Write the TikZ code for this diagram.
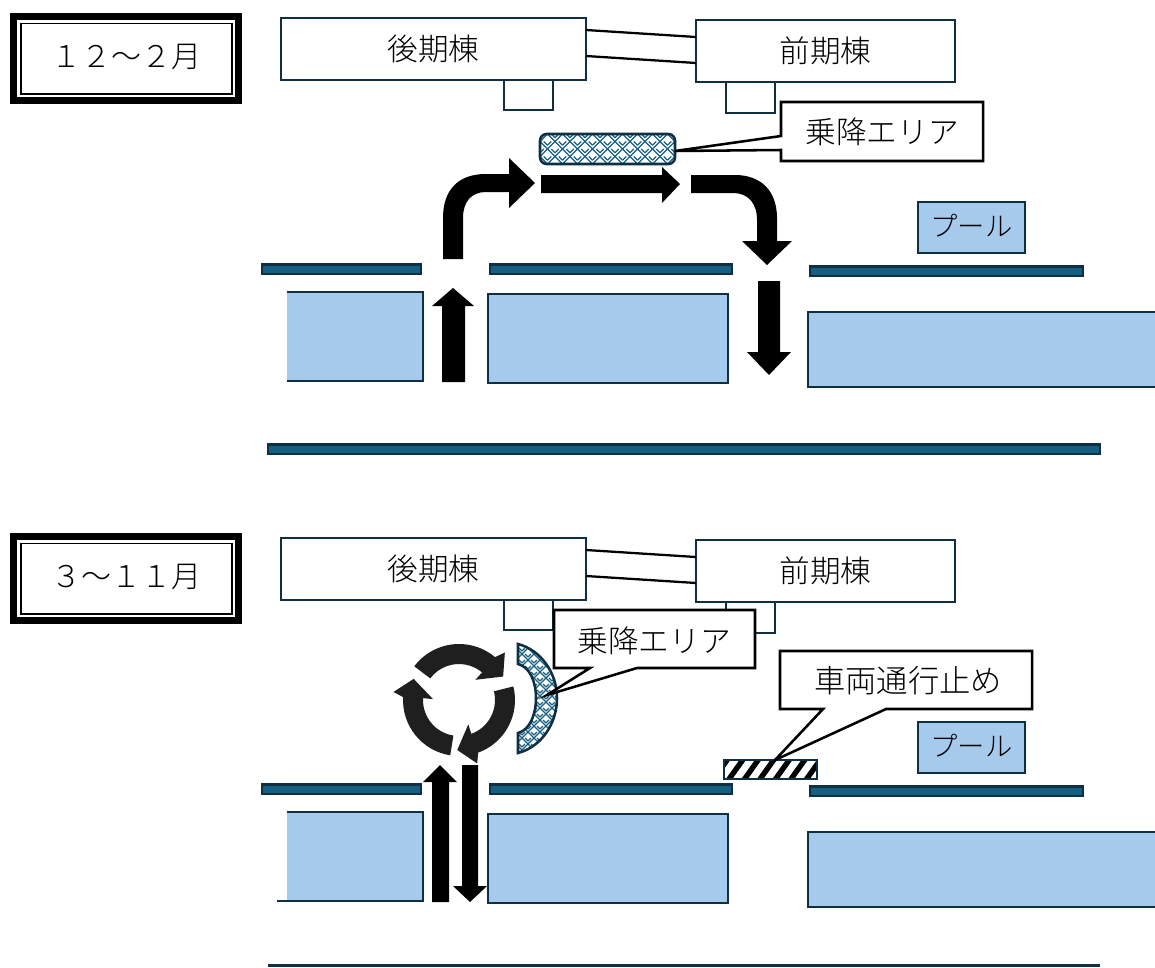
\documentclass[tikz,border=0pt]{standalone}
\usepackage{fontspec}
\newfontfamily\cjk[UprightFont=* Light]{Noto Sans CJK JP}
\usetikzlibrary{calc}
\definecolor{wallfill}{HTML}{156082}
\definecolor{navy}{HTML}{0F2F43}
\definecolor{bldfill}{HTML}{A6CAEC}
\tikzset{
  x=0.75pt,y=-0.75pt,
  bldg/.style={draw=navy,line width=1.9pt,fill=white,inner sep=0pt,font=\cjk\fontsize{23}{25}\selectfont},
  annex/.style={draw=navy,line width=1.9pt,fill=white},
  wallbar/.style={draw=navy,line width=1.9pt,fill=wallfill},
  blockfill/.style={fill=bldfill},
  blockline/.style={draw=navy,line width=1.9pt},
  calloutshape/.style={draw=black,line width=1.9pt,fill=white,line join=miter},
  calloutlabel/.style={inner sep=0pt,font=\cjk\fontsize{23}{25}\selectfont},
  titletext/.style={inner sep=0pt,font=\cjk\fontsize{22.5}{25}\selectfont},
  link/.style={draw=black,line width=1.7pt},
  fatarrow/.style={fill=black},
  weave/.style={draw=wallfill,line width=0.95pt},
  recycle/.style={fill=black!88},
}
% woven fill: a checkerboard of tiles, each with short diagonal strokes
\newcommand{\weavefill}[5]{% x0, y0, nx, ny, tile
  \foreach \i in {1,...,#3}{
    \foreach \j in {1,...,#4}{
      \pgfmathtruncatemacro{\wv}{mod(\i+\j,2)}
      \pgfmathsetmacro{\wx}{#1+(\i-1)*#5}
      \pgfmathsetmacro{\wy}{#2+(\j-1)*#5}
      \ifnum\wv=0
        \draw[weave] (\wx,\wy+#5/2) -- (\wx+#5/2,\wy);
        \draw[weave] (\wx,\wy+#5) -- (\wx+#5,\wy);
      \else
        \draw[weave] (\wx,\wy) -- (\wx+#5,\wy+#5);
        \draw[weave] (\wx+#5/2,\wy) -- (\wx+#5,\wy+#5/2);
      \fi
    }
  }
}
\newcommand{\campus}[1]{%
  % title frame
  \fill[black] (10,12.5) rectangle (242,104);
  \fill[white] (17,19.5) rectangle (235,97);
  \draw[black,line width=1.4pt] (21,23.5) rectangle (232,94);
  \node[titletext] (title) at (126.5,57) {#1};
  % buildings and corridors
  \draw[annex] (504,80) rectangle (553,110);
  \draw[annex] (726,82) rectangle (775,113);
  \node[bldg,minimum width=228.75pt,minimum height=46.5pt] (late) at (433.5,49) {\raisebox{1pt}{後期棟}};
  \node[bldg,minimum width=194.25pt,minimum height=46.5pt] (early) at (825.5,51) {\raisebox{1pt}{前期棟}};
  \coordinate (la) at (586,30); \coordinate (lb) at (586,56);
  \coordinate (ea) at (696,37); \coordinate (eb) at (696,63);
  \draw[link] (la) -- (ea);
  \draw[link] (lb) -- (eb);
  % pool
  \node[bldg,fill=bldfill,minimum width=80.25pt,minimum height=38.25pt,font=\cjk\fontsize{20.5}{22}\selectfont] (pool) at (971.5,227.5) {\raisebox{3pt}{プール}};
  % walls
  \draw[wallbar] (262,264.5) rectangle (421,274);
  \draw[wallbar] (490,264.5) rectangle (732,274);
  \draw[wallbar] (810,266.5) rectangle (1083,276);
  % blocks
  \fill[blockfill] (287,292) rectangle (423,381);
  \draw[blockline] (287,292) -- (423,292) -- (423,381) -- (287,381);
  \fill[blockfill,draw=navy,line width=1.9pt] (488,294) rectangle (728,383);
  \fill[blockfill] (808,312) rectangle (1155,387);
  \draw[blockline] (1155,312) -- (808,312) -- (808,387) -- (1155,387);
}
\begin{document}
\begin{tikzpicture}
\useasboundingbox (0,0) rectangle (1155,967);
\fill[white] (0,0) rectangle (1155,967);

%% ---- upper panel
\begin{scope}[name prefix=a-]
  \campus{１２～２月}
  \draw[wallbar] (268,444.5) rectangle (1100,454);
  % boarding area
  \begin{scope}
    \clip[rounded corners=5pt] (540,134) rectangle (675,164);
    \weavefill{540}{134}{19}{5}{7.5}
  \end{scope}
  \draw[draw=navy,line width=1.9pt,rounded corners=5pt] (540,134) rectangle (675,164);
  \coordinate (a-tipA) at (675,151);
  \draw[calloutshape] (781,102) -- (983,102) -- (983,161) -- (781,161) -- (781,150) -- (a-tipA) -- (781,136) -- cycle;
  \node[calloutlabel] (board) at (882,132) {乗降エリア};
  % traffic arrows
  \fill[fatarrow] (443,259) -- (443,218) .. controls (443,190) and (458,174) .. (486,174) -- (509,174)
     -- (509,158) -- (535,183) -- (509,208) -- (509,192) -- (486,192)
     .. controls (471,192) and (463,202) .. (463,218) -- (463,259) -- cycle;
  \fill[fatarrow] (541,175) -- (662,175) -- (662,167) -- (680,184) -- (662,203) -- (662,193) -- (541,193) -- cycle;
  \fill[fatarrow] (691,175) -- (735,175) .. controls (762,175) and (777,192) .. (777,218) -- (777,241)
     -- (792,241) -- (767,265) -- (742,241) -- (757,241) -- (757,220)
     .. controls (757,203) and (748,193) .. (733,193) -- (691,193) -- cycle;
  \fill[fatarrow] (442,382) -- (442,306) -- (432,306) -- (453,288) -- (474,306) -- (465,306) -- (465,382) -- cycle;
  \fill[fatarrow] (758,281) -- (780,281) -- (780,352) -- (791,352) -- (769,375) -- (747,352) -- (758,352) -- cycle;
\end{scope}

%% ---- lower panel
\begin{scope}[shift={(0,520)},name prefix=b-]
  \campus{３～１１月}
  \fill[navy] (268,444) rectangle (1100,447);
  \draw[navy,line width=1pt] (277,381) -- (287,381);
\end{scope}
\begin{scope}[name prefix=c-]
  % crescent boarding area
  \begin{scope}
    \clip (518,644) .. controls (541,650) and (557,673) .. (557,698) .. controls (557,724) and (541,747) .. (518,753)
      -- (518,733) .. controls (530,730) and (536,714) .. (536,698) .. controls (536,682) and (530,667) .. (518,664) -- cycle;
    \weavefill{516}{642}{7}{19}{6}
  \end{scope}
  \draw[draw=navy,line width=1.9pt] (518,644) .. controls (541,650) and (557,673) .. (557,698) .. controls (557,724) and (541,747) .. (518,753)
      -- (518,733) .. controls (530,730) and (536,714) .. (536,698) .. controls (536,682) and (530,667) .. (518,664) -- cycle;
  % callouts
  \coordinate (c-tipB) at (547,695);
  \draw[calloutshape] (554,610) -- (755,610) -- (755,668) -- (637,668) -- (c-tipB) -- (590,668) -- (554,668) -- cycle;
  \node[calloutlabel] (board) at (654,641) {乗降エリア};
  % closure bar
  \begin{scope}
    \clip (724,760) rectangle (817,779);
    \foreach \k in {0,...,7}{
      \draw[black,line width=4pt] ({710+\k*15.5},784) -- ++(20,-28);
    }
  \end{scope}
  \draw[draw=navy,line width=1.9pt] (724,760) rectangle (817,779);
  \coordinate (c-tipC) at (775,760);
  \draw[calloutshape] (780,651) -- (1032,651) -- (1032,709) -- (886,709) -- (c-tipC) -- (823,709) -- (780,709) -- cycle;
  \node[calloutlabel,font=\cjk\fontsize{23.5}{25}\selectfont] (stop) at (908,681) {車両通行止め};
  % circulation symbol
  \foreach \rot/\tail in {0/143,127/134,240/134}{
    \begin{scope}[shift={(459,700)},x=0.75pt,y=0.75pt,rotate=\rot]
      \fill[recycle] (\tail:56) arc[start angle=\tail,end angle=50,radius=56]
         -- (46:66) -- (28:50) -- (51:26) -- (50:36)
         arc[start angle=50,end angle=\tail,radius=36] -- cycle;
    \end{scope}
  }
  % traffic arrows
  \fill[fatarrow] (432,902) -- (432,782) -- (423,782) -- (440,765) -- (457,782) -- (449,782) -- (449,902) -- cycle;
  \fill[fatarrow] (462,765) -- (478,765) -- (478,886) -- (487,886) -- (470,902) -- (453,886) -- (462,886) -- cycle;
\end{scope}
\end{tikzpicture}
\end{document}
